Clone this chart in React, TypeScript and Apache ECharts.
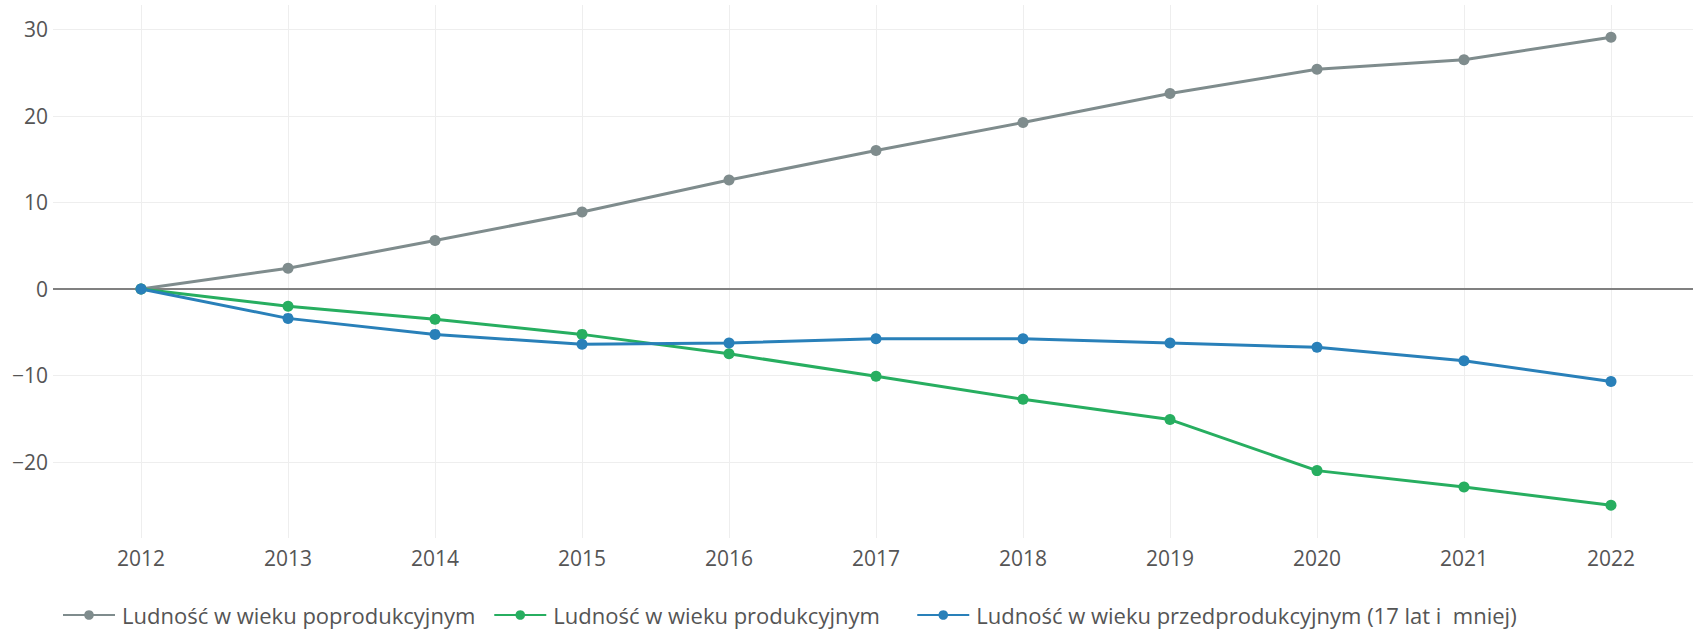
import React, { useEffect, useRef } from "react";
import * as echarts from "echarts";

const years = [2012, 2013, 2014, 2015, 2016, 2017, 2018, 2019, 2020, 2021, 2022];
const seriesNames = [
  "Ludność w wieku poprodukcyjnym",
  "Ludność w wieku produkcyjnym",
  "Ludność w wieku przedprodukcyjnym (17 lat i  mniej)",
];
const poprodukcyjny = [0, 2.4, 5.6, 8.9, 12.6, 16.0, 19.25, 22.6, 25.4, 26.5, 29.1];
const produkcyjny = [0, -2.0, -3.5, -5.25, -7.5, -10.1, -12.75, -15.1, -21.0, -22.9, -25.0];
const przedprodukcyjny = [0, -3.4, -5.25, -6.4, -6.25, -5.75, -5.75, -6.25, -6.75, -8.3, -10.7];
const colors = ["#7f8c8d", "#27ae60", "#2980b9"];
const legendTextWidths = [345, 345, 570];

export default function App() {
  const ref = useRef<HTMLDivElement>(null);
  useEffect(() => {
    document.body.style.margin = "0";
    if (!ref.current) return;
    const chart = echarts.init(ref.current, null, { renderer: "svg" });
    const font = "'Open Sans', Verdana, Arial, sans-serif";
    const values = [poprodukcyjny, produkcyjny, przedprodukcyjny];
    const series: any[] = values.map((vals, i) => ({
      name: seriesNames[i],
      type: "line",
      data: years.map((y, j) => [y, vals[j]]),
      symbol: "circle",
      symbolSize: 11,
      z: 3 + i,
      lineStyle: { color: colors[i], width: 3 },
      itemStyle: { color: colors[i] },
    }));
    series[0].markLine = {
      silent: true,
      symbol: "none",
      label: { show: false },
      lineStyle: { color: "#808080", width: 2, type: "solid" },
      data: [{ yAxis: 0 }],
      z: 1,
    };
    chart.setOption({
      animation: false,
      color: colors,
      grid: { left: 53, right: 0, top: 5, bottom: 632 - 538, containLabel: false },
      legend: {
        data: seriesNames.map((n, i) => ({ name: n, textStyle: { width: legendTextWidths[i] } })),
        left: 57,
        top: 598,
        itemWidth: 52,
        itemHeight: 12,
        itemGap: 18,
        textStyle: { fontFamily: font, fontSize: 22, lineHeight: 24, color: "#555", padding: [0, 0, 0, 2] },
      },
      xAxis: {
        type: "value",
        min: 2011.401,
        max: 2022.558,
        minInterval: 1,
        maxInterval: 1,
        axisLine: { show: false },
        axisTick: { show: false },
        axisLabel: {
          showMinLabel: false,
          showMaxLabel: false,
          margin: 9,
          fontFamily: font,
          fontSize: 21,
          color: "#555",
          formatter: (v: number) => String(v),
        },
        splitLine: { show: true, showMinLine: false, showMaxLine: false, lineStyle: { color: "#eeeeee", width: 1 } },
      },
      yAxis: {
        type: "value",
        min: -28.79,
        max: 32.83,
        minInterval: 10,
        maxInterval: 10,
        axisLine: { show: false },
        axisTick: { show: false },
        axisLabel: {
          showMinLabel: false,
          showMaxLabel: false,
          margin: 5,
          fontFamily: font,
          fontSize: 21,
          color: "#555",
          formatter: (v: number) => (v < 0 ? "\u2212" + Math.abs(v) : String(v)),
        },
        splitLine: { show: true, showMinLine: false, showMaxLine: false, lineStyle: { color: "#eeeeee", width: 1 } },
      },
      series,
    });
    return () => chart.dispose();
  }, []);
  return <div ref={ref} style={{ width: 1693, height: 632 }} />;
}
